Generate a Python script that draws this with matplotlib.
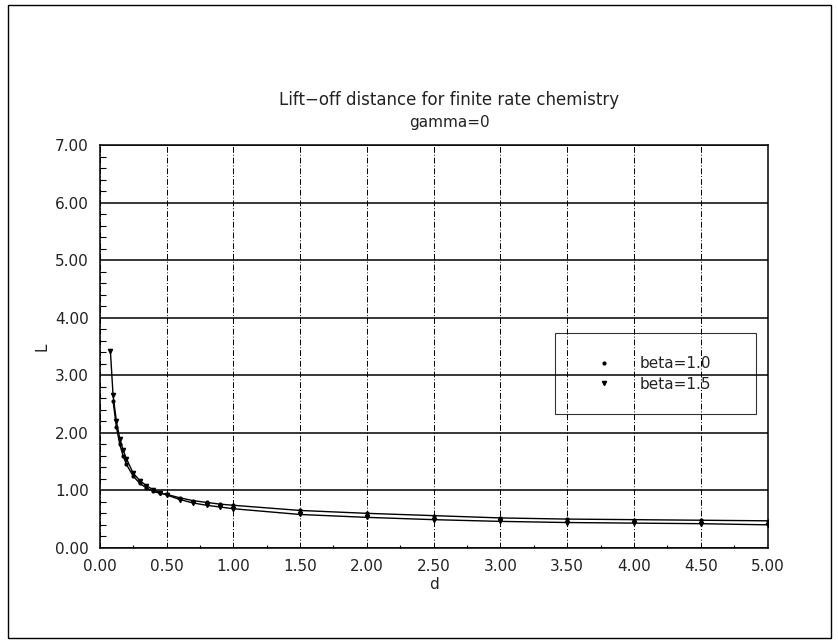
import matplotlib
matplotlib.use("Agg")
import matplotlib.pyplot as plt
from matplotlib.patches import Rectangle
from matplotlib.lines import Line2D
from matplotlib.ticker import MultipleLocator

# lift-off distance L against d, two beta values (gamma=0)
d_b10 = [0.1, 0.125, 0.15, 0.175, 0.2, 0.25, 0.3, 0.35, 0.4, 0.45, 0.5, 0.6, 0.7,
         0.8, 0.9, 1.0, 1.5, 2.0, 2.5, 3.0, 3.5, 4.0, 4.5, 5.0]
L_b10 = [2.55, 2.1, 1.8, 1.6, 1.45, 1.25, 1.12, 1.04, 0.98, 0.95, 0.93, 0.87, 0.82,
         0.79, 0.76, 0.74, 0.65, 0.60, 0.56, 0.52, 0.50, 0.49, 0.48, 0.47]
d_b15 = [0.08, 0.1, 0.125, 0.15, 0.175, 0.2, 0.25, 0.3, 0.35, 0.4, 0.45, 0.5, 0.6,
         0.7, 0.8, 0.9, 1.0, 1.5, 2.0, 2.5, 3.0, 3.5, 4.0, 4.5, 5.0]
L_b15 = [3.42, 2.65, 2.2, 1.9, 1.7, 1.55, 1.3, 1.17, 1.08, 1.01, 0.96, 0.92, 0.84,
         0.78, 0.74, 0.71, 0.68, 0.58, 0.53, 0.49, 0.46, 0.44, 0.43, 0.42, 0.40]

xticks = [0, 0.5, 1, 1.5, 2, 2.5, 3, 3.5, 4, 4.5, 5]
yticks = [0, 1, 2, 3, 4, 5, 6, 7]

txt = "#222222"

fig = plt.figure(figsize=(8.38, 6.43), dpi=100)
ax = fig.add_axes([0.119, 0.148, 0.797, 0.626])

ax.plot(d_b10, L_b10, color="black", lw=1.0, marker=".", ms=4)
ax.plot(d_b15, L_b15, color="black", lw=1.0, marker="v", ms=3)

ax.set_xlim(0, 5)
ax.set_ylim(0, 7)
ax.set_xticks(xticks)
ax.set_yticks(yticks)
ax.set_xticklabels([f"{v:.2f}" for v in xticks])
ax.set_yticklabels([f"{v:.2f}" for v in yticks])
ax.xaxis.set_minor_locator(MultipleLocator(0.25))
ax.yaxis.set_minor_locator(MultipleLocator(0.2))
ax.tick_params(which="major", length=0, labelsize=11, labelcolor=txt, pad=8)
ax.tick_params(which="minor", direction="in", length=4, width=0.8)
ax.tick_params(axis="x", which="minor", length=2)

# solid horizontal grid, dash-dot vertical grid
ax.grid(axis="y", color="black", lw=1.1, ls="-")
ax.grid(axis="x", color="black", lw=0.7, ls=(0, (6, 2, 1, 2)))
for s in ax.spines.values():
    s.set_linewidth(1.1)

ax.set_xlabel("d", fontsize=11, color=txt, labelpad=2)
ax.set_ylabel("L", fontsize=11, color=txt, labelpad=4)

# legend shows markers only, in an open box with the grid showing through
handles = [Line2D([], [], color="black", ls="none", marker=".", ms=4),
           Line2D([], [], color="black", ls="none", marker="v", ms=3)]
leg = ax.legend(handles, ["beta=1.0", "beta=1.5"], loc="upper left",
                bbox_to_anchor=(0.681, 0.335, 0.302, 0.198), mode="expand",
                borderaxespad=0, frameon=True, fancybox=False, facecolor="none",
                edgecolor="black", fontsize=11, handlelength=3.5,
                handletextpad=0.55, labelspacing=0.35, borderpad=1.5)
leg.get_frame().set_linewidth(0.8)
for t in leg.get_texts():
    t.set_color(txt)

fig.text(0.536, 0.845, "Lift\u2212off distance for finite rate chemistry",
         ha="center", va="center", fontsize=12, color=txt)
fig.text(0.536, 0.809, "gamma=0", ha="center", va="center", fontsize=11, color=txt)

# outer frame around the whole plot
fig.patches.append(Rectangle((0.01, 0.008), 0.982, 0.984, transform=fig.transFigure,
                             fill=False, edgecolor="black", lw=1.0))

fig.savefig("out.png", dpi=100)
